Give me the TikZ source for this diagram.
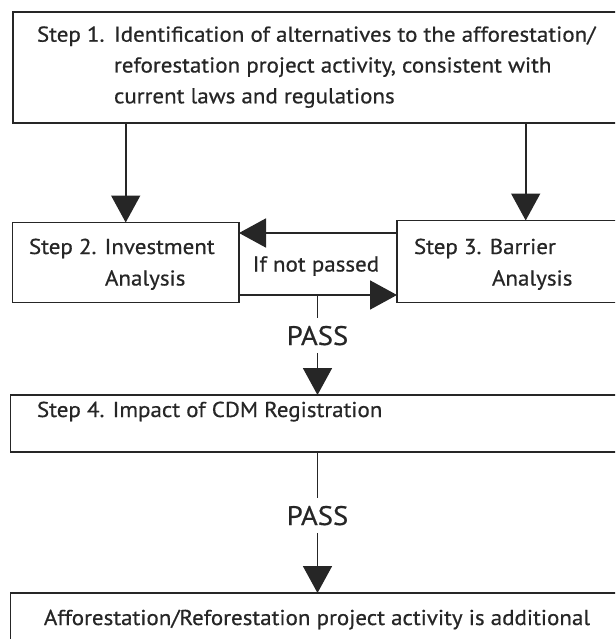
\documentclass[tikz,border=0pt]{standalone}
\usepackage{fontspec}
\setmainfont[FakeStretch=1.07, FakeBold=0.6]{PT Sans}
\usetikzlibrary{arrows.meta}
\definecolor{ink}{gray}{0.15}
\tikzset{
  box/.style={draw=ink, line width=1.8pt, rectangle, inner sep=0pt, outer sep=0pt, anchor=north west},
  conn/.style={draw=ink, line width=1.7pt},
  arr/.style={conn, -{Triangle[length=27pt,width=29pt]}},
  txt/.style={inner sep=0pt, outer sep=0pt, text=ink, font=\fontsize{21.5}{26}\selectfont},
  bigtxt/.style={inner sep=7.5pt, outer sep=0pt, text=ink, font=\fontsize{26.8}{32}\selectfont},
}
\begin{document}
\begin{tikzpicture}[x=1pt, y=-1pt]
\useasboundingbox (0,0) rectangle (615,639);
\clip (0,0) rectangle (615,639);

% boxes (the right-hand ones run past the page edge)
\node[box, minimum width=640pt, minimum height=111pt] (s1) at (12.7,11.7) {};
\node[box, minimum width=226.5pt, minimum height=80pt] (s2) at (12.5,222.5) {};
\node[box, minimum width=250pt, minimum height=82pt] (s3) at (397,220.5) {};
\node[box, minimum width=640pt, minimum height=57pt] (s4) at (10.5,395) {};
\node[box, minimum width=640pt, minimum height=80pt] (s5) at (10.5,593) {};

% texts
\node[txt, anchor=base west] (t1a) at (37,41.7) {Step 1.};
\node[txt, anchor=base west] (t1b) at (114,41.7) {Identification of alternatives to the afforestation/};
\node[txt, anchor=base west] (t1c) at (114,72.5) {reforestation project activity, consistent with};
\node[txt, anchor=base west] (t1d) at (114,103.3) {current laws and regulations};
\node[txt, anchor=base west] (t2a) at (29,254) {Step 2. Investment};
\node[txt, anchor=base west] (t2b) at (105,285.5) {Analysis};
\node[txt, anchor=base west] (t3a) at (414,254) {Step 3. Barrier};
\node[txt, anchor=base west] (t3b) at (492,285.5) {Analysis};
\node[txt, anchor=base] (tnp) at (316,271.5) {If not passed};
\node[txt, anchor=base west] (t4) at (37,417) {Step 4. Impact of CDM Registration};
\node[txt, anchor=base] (t5) at (317,625) {Afforestation/Reforestation project activity is additional};
\node[bigtxt, anchor=base] (p1) at (317.5,345) {PASS};
\node[bigtxt, anchor=base] (p2) at (317.5,525) {PASS};

% connectors
\coordinate (a1) at (125.7,122.7);
\coordinate (a2) at (525.7,122.7);
\coordinate (lr) at (0,233);
\coordinate (rr) at (0,295);
\coordinate (j1) at (317.5,295);
\coordinate (j2) at (317.5,452);

\draw[arr] (a1) -- (a1 |- s2.north);
\draw[arr] (a2) -- (a2 |- s3.north);
\draw[arr] (lr -| s3.west) -- (lr -| s2.east);
\draw[arr] (rr -| s2.east) -- (rr -| s3.west);
\draw[conn] (j1) -- (p1.north);
\draw[arr] (p1.south) -- (p1.south |- s4.north);
\draw[conn] (j2) -- (p2.north);
\draw[arr] (p2.south) -- (p2.south |- s5.north);
\end{tikzpicture}
\end{document}
